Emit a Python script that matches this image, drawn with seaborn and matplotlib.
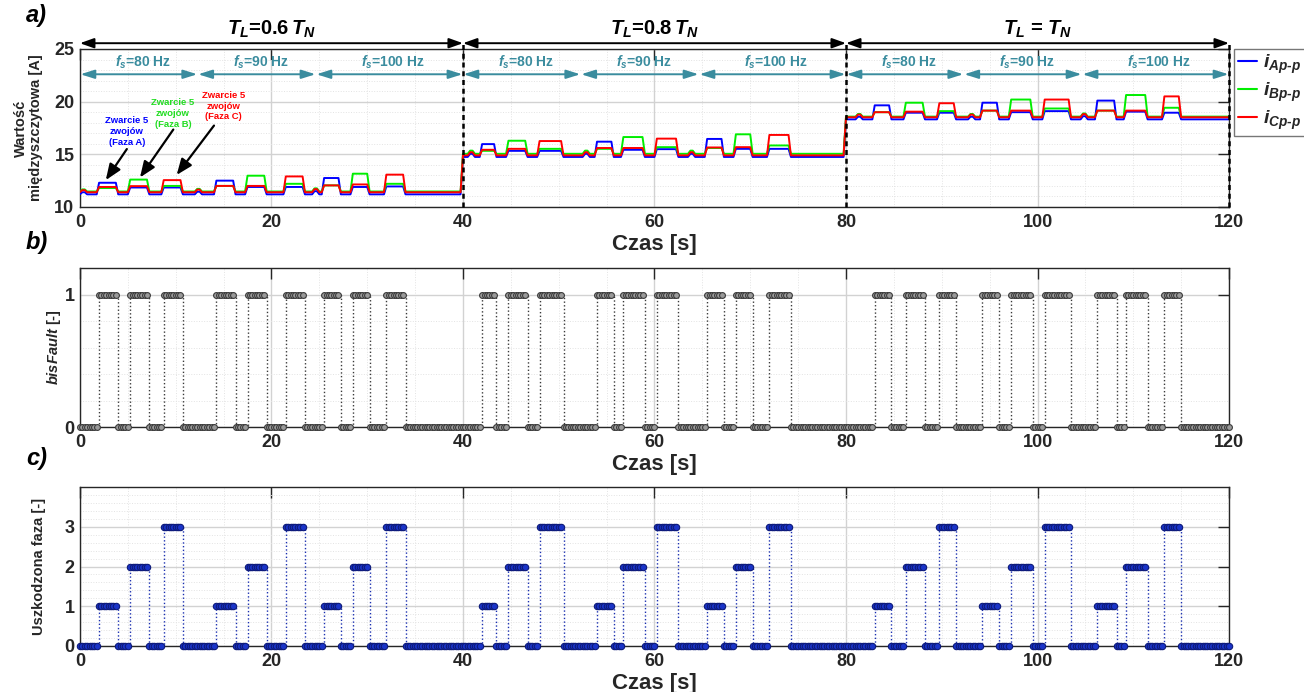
import numpy as np
import pandas as pd
import matplotlib
matplotlib.use("Agg")
import matplotlib.pyplot as plt
import seaborn as sns
from matplotlib.lines import Line2D
from matplotlib.ticker import MultipleLocator, FixedLocator

# ---------------- data ----------------
# fault intervals [s] and the faulted phase (1=A, 2=B, 3=C)
fault_start = [2.0, 5.2, 8.75, 14.1, 17.4, 21.45, 25.35, 28.4, 31.8,
               41.8, 44.65, 48.0, 53.95, 56.65, 60.05, 65.3, 68.3, 72.0,
               82.9, 86.05, 89.6, 94.1, 97.1, 100.65, 106.15, 109.2, 113.2]
fault_end = [3.8, 7.25, 10.75, 16.2, 19.4, 23.45, 27.2, 30.2, 34.0,
             43.5, 46.55, 50.3, 55.55, 58.8, 62.45, 67.2, 70.15, 74.1,
             84.75, 88.25, 91.5, 96.0, 99.5, 103.3, 108.05, 111.3, 115.0]
fault_phase = [1, 2, 3, 1, 2, 3, 1, 2, 3,
               1, 2, 3, 1, 2, 3, 1, 2, 3,
               1, 2, 3, 1, 2, 3, 1, 2, 3]

# peak-to-peak current levels [A] during each fault interval
lvl_A = [12.3, 11.85, 11.85, 12.5, 11.9, 11.9, 12.75, 11.9, 11.95,
         15.97, 15.33, 15.33, 16.2, 15.43, 15.49, 16.46, 15.52, 15.52,
         19.65, 18.95, 18.95, 19.9, 19.0, 19.1, 20.1, 19.05, 18.95]
lvl_B = [11.8, 12.6, 12.0, 12.0, 12.97, 12.2, 12.05, 13.16, 12.2,
         15.33, 16.29, 15.52, 15.52, 16.64, 15.68, 15.6, 16.9, 15.84,
         19.0, 19.9, 19.1, 19.15, 20.2, 19.35, 19.15, 20.63, 19.42]
lvl_C = [11.9, 11.98, 12.55, 12.0, 12.0, 12.9, 12.05, 12.14, 13.07,
         15.43, 15.52, 16.26, 15.6, 15.6, 16.49, 15.65, 15.68, 16.84,
         19.0, 19.05, 19.85, 19.15, 19.15, 20.2, 19.15, 19.15, 20.5]

# healthy levels for each load section (0-40, 40-80, 80-120 s)
base_A = [11.2, 14.75, 18.32]
base_B = [11.47, 15.05, 18.58]
base_C = [11.4, 14.9, 18.52]

# small transients at supply-frequency changes
blip_t = [0.5, 12.4, 24.7, 40.8, 52.8, 64.0, 81.3, 93.2, 105.0]
blip_amp = [0.2, 0.25, 0.3, 0.3, 0.3, 0.3, 0.25, 0.25, 0.3]

load_edges = [0, 40, 80, 120]
load_labels = [r'$T_L$=0.6$\,T_N$', r'$T_L$=0.8$\,T_N$', r'$T_L$ = $T_N$']
fs_edges = [0.0, 12.3, 24.65, 40.0]          # relative to each load section
fs_labels = [r'$f_s$=80 Hz', r'$f_s$=90 Hz', r'$f_s$=100 Hz']

phase_names = [r'$i_{Ap\text{-}p}$', r'$i_{Bp\text{-}p}$', r'$i_{Cp\text{-}p}$']
phase_colors = ['#0000ff', '#00ee00', '#ff0000']

dt = 0.25
t = np.arange(0, 120 + dt / 2, dt)


def current(base, lvl):
    y = np.array([base[min(int(tt // 40), 2)] for tt in t])
    for s, e, v in zip(fault_start, fault_end, lvl):
        y[(t >= s) & (t < e)] = v
    for bt, ba in zip(blip_t, blip_amp):
        y[(t >= bt - 0.25) & (t < bt + 0.25)] += ba
    return y


is_fault = np.zeros_like(t)
phase_sig = np.zeros_like(t)
for s, e, p in zip(fault_start, fault_end, fault_phase):
    m = (t >= s) & (t < e)
    is_fault[m] = 1
    phase_sig[m] = p

df_i = pd.concat([
    pd.DataFrame({'t': t, 'i': current(b, l), 'faza': n})
    for b, l, n in zip([base_A, base_B, base_C], [lvl_A, lvl_B, lvl_C], phase_names)
])
df_f = pd.DataFrame({'t': t, 'bisFault': is_fault, 'faza': phase_sig})

# ---------------- style ----------------
sns.set_theme(style='white')
plt.rcParams['font.family'] = ['Liberation Sans', 'DejaVu Sans']
plt.rcParams['font.weight'] = 'bold'
plt.rcParams['mathtext.fontset'] = 'custom'
plt.rcParams['mathtext.it'] = 'Liberation Sans:bold:italic'
plt.rcParams['mathtext.rm'] = 'Liberation Sans:bold'
plt.rcParams['mathtext.bf'] = 'Liberation Sans:bold'
plt.rcParams['axes.unicode_minus'] = False

TXT = '#262626'
TEAL = '#3a8c9e'

fig = plt.figure(figsize=(13.04, 6.92), dpi=100)
axA = fig.add_axes([0.0613, 0.7009, 0.8812, 0.2283])
axB = fig.add_axes([0.0613, 0.3829, 0.8812, 0.2298])
axC = fig.add_axes([0.0613, 0.0665, 0.8812, 0.2297])


def style(ax, ylim, yticks, yminor):
    ax.set_xlim(0, 120)
    ax.set_ylim(*ylim)
    ax.xaxis.set_major_locator(MultipleLocator(20))
    ax.xaxis.set_minor_locator(MultipleLocator(5))
    ax.yaxis.set_major_locator(FixedLocator(yticks))
    ax.yaxis.set_minor_locator(MultipleLocator(yminor))
    ax.grid(which='major', color='#d2d2d2', lw=1.0)
    ax.grid(which='minor', color='#e3e3e3', lw=0.7, ls=':')
    ax.set_axisbelow(True)
    ax.tick_params(which='major', direction='in', length=8, width=1,
                   top=True, right=True, labelsize=13, colors=TXT)
    ax.tick_params(axis='x', which='major', pad=5)
    ax.tick_params(axis='y', which='major', pad=4)
    ax.tick_params(which='minor', length=0)
    for sp in ax.spines.values():
        sp.set_color(TXT)
        sp.set_linewidth(1.0)
    ax.set_xlabel('Czas [s]', fontsize=16, fontweight='bold', color=TXT, labelpad=2)


# ---------------- panel a ----------------
sns.lineplot(data=df_i, x='t', y='i', hue='faza', palette=phase_colors,
             hue_order=phase_names, ax=axA, linewidth=1.4, estimator=None,
             legend=False, zorder=3)
style(axA, (10, 25), [10, 15, 20, 25], 1)
axA.set_ylabel('Wartość\nmiędzyszczytowa [A]', fontsize=10.5, fontweight='bold',
               color=TXT, linespacing=1.1)
axA.yaxis.label.set_va('center')
axA.yaxis.set_label_coords(-0.045, 0.5)

y_top = 25.55
for k in range(3):
    a, b = load_edges[k], load_edges[k + 1]
    axA.annotate('', xy=(b, y_top), xytext=(a, y_top), xycoords='data',
                 annotation_clip=False,
                 arrowprops=dict(arrowstyle='<|-|>,head_length=0.7,head_width=0.25',
                                 color='black', lw=1.4, shrinkA=0, shrinkB=0))
    axA.text((a + b) / 2, 26.85, load_labels[k], ha='center', va='center',
             fontsize=14.5, fontweight='bold', color='black', clip_on=False)
    for j in range(3):
        fa, fb = a + fs_edges[j] + 0.05, a + fs_edges[j + 1] - 0.05
        axA.annotate('', xy=(fb, 22.6), xytext=(fa, 22.6), xycoords='data',
                     arrowprops=dict(arrowstyle='<|-|>,head_length=0.7,head_width=0.22',
                                     color=TEAL, lw=1.4, shrinkA=0, shrinkB=0),
                     zorder=4)
        axA.text((fa + fb) / 2 + 0.4, 23.7, fs_labels[j], ha='center', va='center',
                 fontsize=10, fontweight='bold', color=TEAL, zorder=4)
    axA.plot([b, b], [10, y_top], color='black', lw=1.8, ls=(0, (2, 1.5)),
             clip_on=False, zorder=5)

ann = [('Zwarcie 5\nzwojów\n(Faza A)', phase_colors[0], (4.9, 17.15), (4.9, 15.5), (2.7, 12.55)),
       ('Zwarcie 5\nzwojów\n(Faza B)', '#22dd22', (9.7, 18.87), (9.75, 17.35), (6.27, 12.8)),
       ('Zwarcie 5\nzwojów\n(Faza C)', phase_colors[2], (14.97, 19.58), (14.0, 17.73), (10.1, 13.04))]
for txt, col, tp, a0, a1 in ann:
    axA.text(tp[0], tp[1], txt, ha='center', va='center', fontsize=6.8,
             fontweight='bold', color=col, linespacing=1.25, zorder=6)
    axA.annotate('', xy=a1, xytext=a0,
                 arrowprops=dict(arrowstyle='-|>,head_length=0.8,head_width=0.32',
                                 color='black', lw=1.6, shrinkA=0, shrinkB=0), zorder=6)

handles = [Line2D([0], [0], color=c, lw=1.5) for c in phase_colors]
leg = axA.legend(handles, phase_names, loc='upper left', bbox_to_anchor=(1.004, 1.0),
                 borderaxespad=0, fontsize=14, handlelength=1.0, handletextpad=0.3,
                 labelspacing=0.25, borderpad=0.2, frameon=True, fancybox=False)
leg.get_frame().set_edgecolor('#555555')
leg.get_frame().set_linewidth(1.0)

# ---------------- panel b ----------------
sns.lineplot(data=df_f, x='t', y='bisFault', ax=axB, color='#3a3a3a', linestyle=':',
             linewidth=1.0, drawstyle='steps-post', marker='o', markersize=4.2,
             markerfacecolor='#9a9a9a', markeredgecolor='#3c3c3c', markeredgewidth=0.8,
             clip_on=False, estimator=None, legend=False, zorder=3)
style(axB, (0, 1.2), [0, 1], 0.2)
axB.set_ylabel(r'$bisFault$ [-]', fontsize=10.5, fontweight='bold', color=TXT)
axB.yaxis.label.set_va('center')
axB.yaxis.set_label_coords(-0.0226, 0.5)

# ---------------- panel c ----------------
sns.lineplot(data=df_f, x='t', y='faza', ax=axC, color='#1a2fb0', linestyle=':',
             linewidth=1.0, drawstyle='steps-post', marker='o', markersize=4.6,
             markerfacecolor='#1a34c8', markeredgecolor='#0d1a7a', markeredgewidth=0.8,
             clip_on=False, estimator=None, legend=False, zorder=3)
style(axC, (0, 4), [0, 1, 2, 3], 0.2)
axC.set_ylabel('Uszkodzona faza [-]', fontsize=10.5, fontweight='bold', color=TXT)
axC.yaxis.label.set_va('center')
axC.yaxis.set_label_coords(-0.0357, 0.5)

for lab, y in zip(['a)', 'b)', 'c)'], [0.977, 0.649, 0.337]):
    fig.text(0.02, y, lab, fontsize=17, fontweight='bold', fontstyle='italic',
             ha='left', va='center', color='black')

fig.savefig('out.png', dpi=100)
